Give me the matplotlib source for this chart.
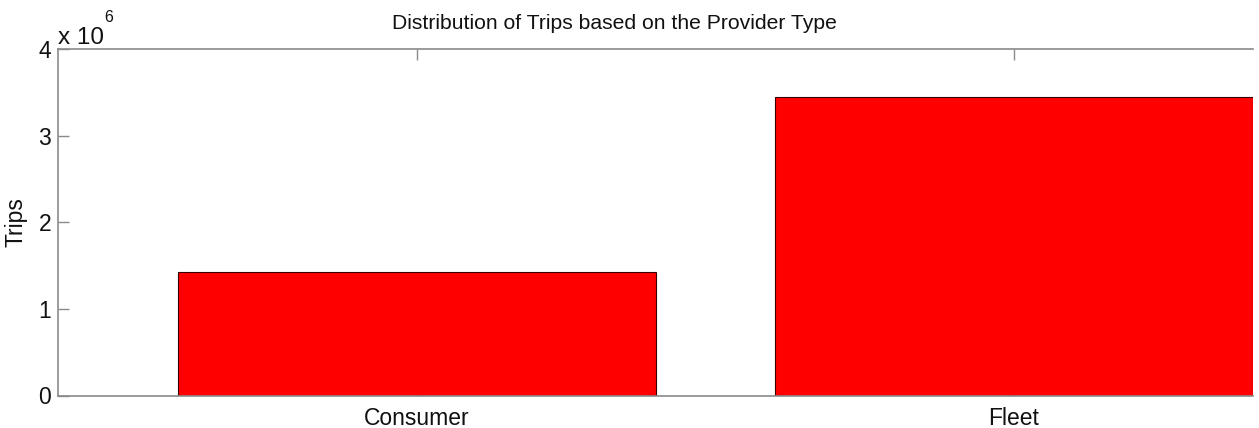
import matplotlib
matplotlib.use("Agg")
import matplotlib.pyplot as plt

categories = ["Consumer", "Fleet"]
trips = [1.428e6, 3.445e6]
y_ticks = [0, 1, 2, 3, 4]
scale_exp = 6

plt.rcParams["font.family"] = ["Liberation Sans", "DejaVu Sans"]

fig = plt.figure(figsize=(12.59, 4.28), dpi=100)
ax = fig.add_axes([58 / 1259, 1 - 395.5 / 428, (1253 - 58) / 1259, (395.5 - 49.3) / 428])

scale = 10 ** scale_exp
positions = list(range(1, len(categories) + 1))
ax.bar(positions, [v / scale for v in trips], width=0.8, color="#ff0000",
       edgecolor="#3a0000", linewidth=0.8, zorder=2)

ax.set_xlim(0.4, 2.4)
ax.set_ylim(0, 4)
ax.set_xticks(positions)
ax.set_xticklabels(categories)
ax.set_yticks(y_ticks)
ax.set_yticklabels([str(t) for t in y_ticks])

spine_color = "#8a8a8a"
for name, sp in ax.spines.items():
    sp.set_color(spine_color)
    sp.set_linewidth(1.2)
ax.spines["right"].set_visible(False)

ax.tick_params(axis="both", direction="in", length=8, width=1.0, color=spine_color,
               labelsize=16.5, labelcolor="#111111", top=True, right=False)
ax.tick_params(axis="x", pad=8)
ax.tick_params(axis="y", pad=5)

ax.set_ylabel("Trips", fontsize=16.5, color="#111111", labelpad=8)

# title centred at a fixed figure position
fig.text(614 / 1259, 1 - 23.5 / 428, "Distribution of Trips based on the Provider Type",
         fontsize=15.2, color="#111111", ha="center", va="center")

# axis scale factor drawn in the top-left corner
fig.text(58 / 1259, 1 - 44 / 428, "x 10", fontsize=17.5, color="#111111",
         ha="left", va="baseline")
fig.text(104 / 1259, 1 - 22 / 428, str(scale_exp), fontsize=11.5, color="#111111",
         ha="left", va="baseline")

fig.savefig("out.png", dpi=100, facecolor="white")
